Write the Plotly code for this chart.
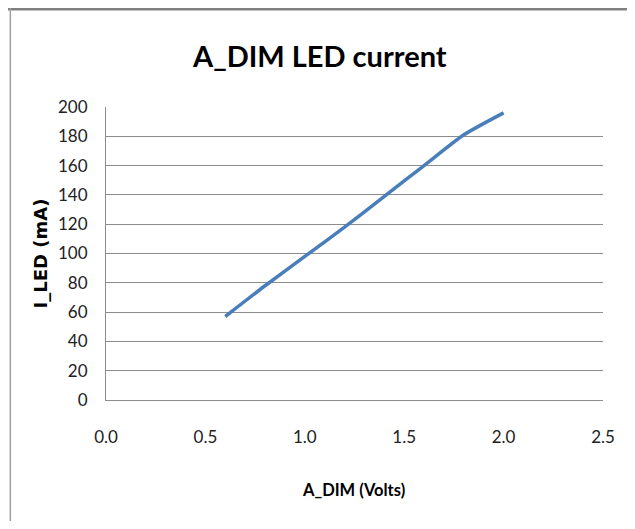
import plotly.graph_objects as go

# A_DIM sweep vs measured LED current
a_dim_volts = [0.6, 0.8, 1.0, 1.2, 1.4, 1.6, 1.8, 2.0]
i_led_ma = [57, 78, 98, 118, 139, 160, 181, 196]

x_ticks = [0.0, 0.5, 1.0, 1.5, 2.0, 2.5]
y_ticks = [0, 20, 40, 60, 80, 100, 120, 140, 160, 180, 200]

BODY = "Lato, Liberation Sans Narrow, Liberation Sans, sans-serif"
GRID = "#8c8c8c"

fig = go.Figure()
fig.add_trace(go.Scatter(x=a_dim_volts, y=i_led_ma, mode="lines",
                         line=dict(color="#4a7ebb", width=3.5, shape="spline", smoothing=0.6),
                         showlegend=False, hoverinfo="x+y"))

# the page puts the figure 8px in from the corner, so the figure is 16px smaller
fig.update_layout(width=619, height=513,
                  margin=dict(l=98, r=17, t=99, b=121, pad=0),
                  paper_bgcolor="white", plot_bgcolor="white",
                  font=dict(family=BODY, color="#222222"))

fig.update_xaxes(range=[0, 2.5], tickvals=x_ticks, tickformat=".1f",
                 showgrid=False, zeroline=False, showline=True, linecolor=GRID, linewidth=1,
                 ticks="", ticklabelstandoff=22, tickfont=dict(size=17, family=BODY))
fig.update_yaxes(range=[0, 200], tickvals=y_ticks,
                 showgrid=True, gridcolor=GRID, gridwidth=1, zeroline=False,
                 showline=True, linecolor=GRID, linewidth=1,
                 ticks="", ticklabelstandoff=14, tickfont=dict(size=17, family=BODY))

# titles as annotations so they sit where the original has them
fig.add_annotation(text="<b>A_DIM LED current</b>", xref="paper", yref="paper",
                   x=0.4286, y=1.177, xanchor="center", yanchor="middle", showarrow=False,
                   font=dict(size=29, family=BODY, color="black"))
fig.add_annotation(text="<b>A_DIM (Volts)</b>", xref="paper", yref="paper",
                   x=0.498, y=-0.307, xanchor="center", yanchor="middle", showarrow=False,
                   font=dict(size=16.5, family=BODY, color="black"))
fig.add_annotation(text="<b>I_LED (mA)</b>", xref="paper", yref="paper",
                   x=-0.131, y=0.5, xanchor="center", yanchor="middle", showarrow=False,
                   textangle=-90, font=dict(size=18, family="DejaVu Sans", color="black"))

# chart frame (top and left edges show in the original)
fig.add_shape(type="line", xref="paper", yref="paper", x0=-0.2, x1=1.1, y0=1.334, y1=1.334,
              line=dict(color="#808080", width=2.5))
fig.add_shape(type="line", xref="paper", yref="paper", x0=-0.1925, x1=-0.1925, y0=1.34, y1=-0.5,
              line=dict(color="#a0a0a0", width=1.5))

fig.write_html("out.html")
